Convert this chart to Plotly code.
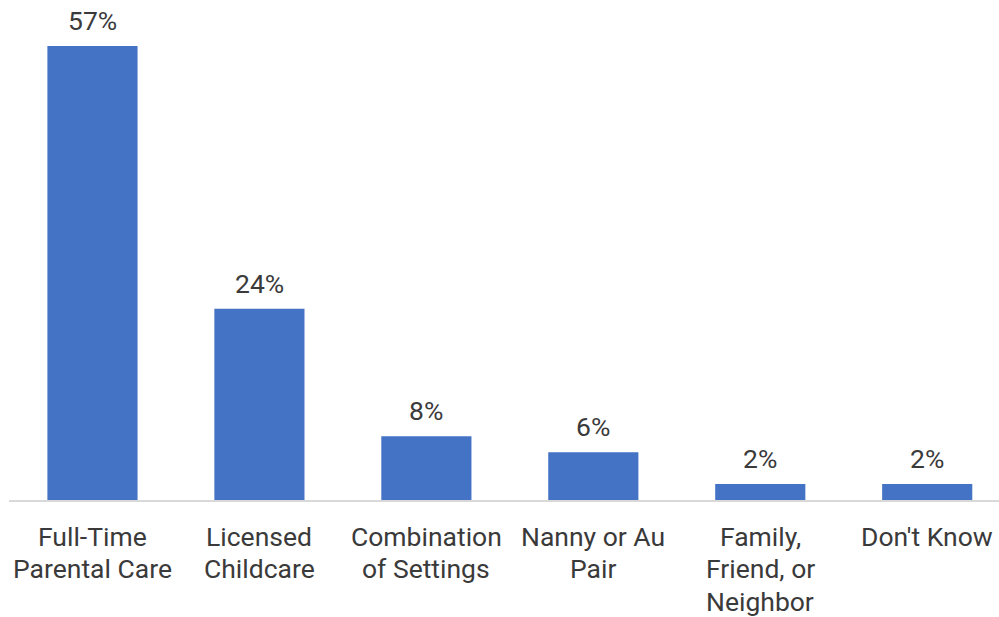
import plotly.graph_objects as go

# Primary childcare arrangement, share of respondents
categories = [
    "Full-Time<br>Parental Care",
    "Licensed<br>Childcare",
    "Combination<br>of Settings",
    "Nanny or Au<br>Pair",
    "Family,<br>Friend, or<br>Neighbor",
    "Don't Know",
]
shares = [57, 24, 8, 6, 2, 2]
share_labels = [f"{v}%" for v in shares]

BAR_COLOR = "#4472C4"
TEXT_COLOR = "#3a3a3a"
FONT = "Roboto, Arial, sans-serif"
FONT_SIZE = 26.5
LINE_GAP = 32.5      # vertical distance between wrapped category lines (px)
FIRST_LINE = 36      # distance of first category line below the baseline (px)

fig = go.Figure(
    go.Bar(
        x=categories,
        y=shares,
        marker=dict(color=BAR_COLOR, line=dict(width=0)),
        width=0.54,
        hoverinfo="skip",
    )
)

# value labels above each bar
for cat, val, lab in zip(categories, shares, share_labels):
    fig.add_annotation(
        x=cat, y=val, text=lab, showarrow=False,
        yanchor="bottom", yshift=8,
        font=dict(family=FONT, size=FONT_SIZE, color=TEXT_COLOR),
    )

# category labels under the axis, one annotation per wrapped line
for cat in categories:
    for i, line in enumerate(cat.split("<br>")):
        fig.add_annotation(
            x=cat, y=0, text=line, showarrow=False,
            yanchor="middle", yshift=-(FIRST_LINE + i * LINE_GAP),
            font=dict(family=FONT, size=FONT_SIZE, color=TEXT_COLOR),
        )

fig.update_layout(
    width=999, height=617,
    margin=dict(l=9, r=0, t=0, b=117, autoexpand=False),
    paper_bgcolor="white", plot_bgcolor="white",
    showlegend=False,
    font=dict(family=FONT, size=FONT_SIZE, color=TEXT_COLOR),
    xaxis=dict(
        range=[-0.5, 5.43],
        automargin=False,
        showline=True, linecolor="#d9d9d9", linewidth=2,
        showgrid=False, ticks="", showticklabels=False,
        fixedrange=True,
    ),
    yaxis=dict(
        range=[0, 62.77], visible=False, showgrid=False, fixedrange=True,
    ),
)

fig.write_html("out.html", config={"displayModeBar": False})
